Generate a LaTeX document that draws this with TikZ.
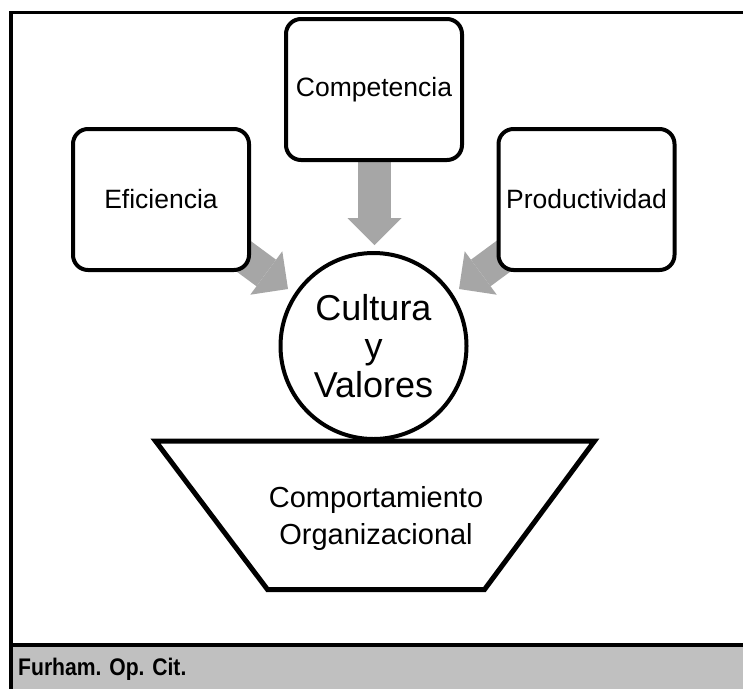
\documentclass[tikz,border=0pt]{standalone}
\usepackage{fontspec}
\setmainfont{Liberation Sans}
\usetikzlibrary{arrows.meta}

\definecolor{arrowgray}{RGB}{166,166,166}
\definecolor{bandgray}{RGB}{192,192,192}

\tikzset{every node/.style={text=black}}
\tikzset{factor/.style={rectangle, rounded corners=15pt, draw, fill=white, line width=4pt,
    minimum width=176pt, minimum height=141pt, font=\fontsize{26.5}{30}\selectfont}}
\tikzset{flecha/.style={draw=arrowgray, line width=33pt,
    -{Triangle[length=27pt, width=54pt, line width=0pt]}}}
\tikzstyle{nucleo}=[circle, draw, line width=4pt, minimum size=186pt, inner sep=0pt,
    align=center, font=\fontsize{36}{38.5}\selectfont]

\begin{document}
\begin{tikzpicture}[x=1pt, y=-1pt]
    \useasboundingbox (0,0) rectangle (743,689);

    \fill[bandgray] (11,647) rectangle (743,689);
    \draw[line width=4pt] (11,645) -- (743,645);
    \draw[line width=3.5pt] (743,12.5) -- (11,12.5) -- (11,689);

    \coordinate (efi-in) at (227,244);
    \coordinate (efi-tip) at (288,289);
    \coordinate (pro-in) at (520,244);
    \coordinate (pro-tip) at (459,289);
    \coordinate (com-in) at (374.5,150);
    \coordinate (com-tip) at (374.5,245);
    \draw[flecha] (efi-in) -- (efi-tip);
    \draw[flecha] (pro-in) -- (pro-tip);
    \draw[flecha] (com-in) -- (com-tip);

    \node[factor] (efi) at (161,199.5) {Eficiencia};
    \node[factor] (com) at (374,89.5) {Competencia};
    \node[factor] (pro) at (586.5,199.5) {Productividad};

    \node[nucleo] (cult) at (373.5,346) {Cultura\\y\\Valores};

    \coordinate (t1) at (155.5,441);
    \coordinate (t2) at (594.5,441);
    \coordinate (t3) at (484.5,589.5);
    \coordinate (t4) at (267.5,589.5);
    \draw[line width=5pt, line join=miter] (t1) -- (t2) -- (t3) -- (t4) -- cycle;
    \node[align=center, font=\fontsize{29}{37}\selectfont] (comp) at (376,518)
        {Comportamiento\\Organizacional};

    \node[anchor=base west, inner sep=0pt, font=\fontsize{24}{27}\selectfont\bfseries]
        (fuente) at (18,675) {\scalebox{.88}[1]{Furham. Op. Cit.}};
\end{tikzpicture}
\end{document}
